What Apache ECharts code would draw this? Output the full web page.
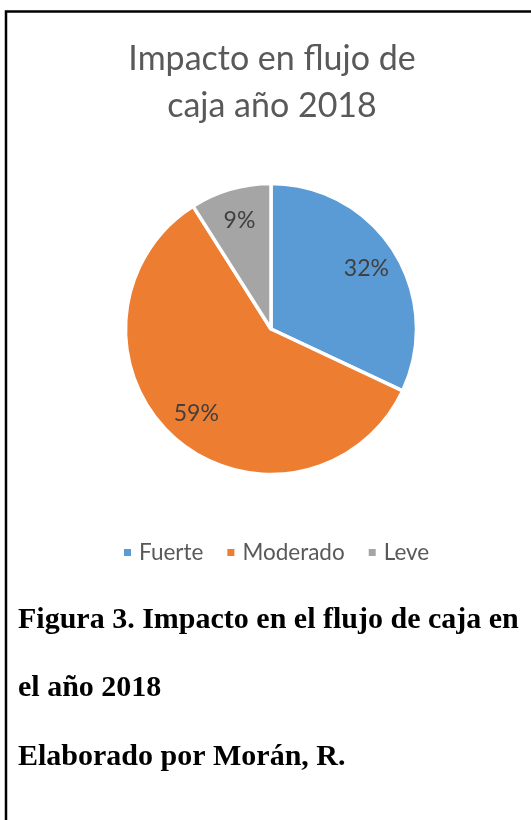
<!DOCTYPE html>
<html>
<head>
<meta charset="utf-8">
<script src="https://cdn.jsdelivr.net/npm/echarts@6/dist/echarts.min.js"></script>
<style>
  html, body { margin: 0; padding: 0; background: #fff; }
  #chart { width: 531px; height: 820px; }
</style>
</head>
<body>
<div id="chart"></div>
<script>
// datos
var categorias = ["Fuerte", "Moderado", "Leve"];
var valores = [32, 59, 9];
var colores = ["#5B9BD5", "#ED7D31", "#A5A5A5"];
var titulo = "Impacto en flujo de\ncaja año 2018";
var pieTexto = ["Figura 3. Impacto en el flujo de caja en", "el año 2018", "Elaborado por Morán, R."];

var datos = categorias.map(function (c, i) {
  return { name: c, value: valores[i] };
});

var myChart = echarts.init(document.getElementById("chart"));

var config = {
  animation: false,
  color: colores,
  title: {
    text: titulo,
    left: 267,
    top: 31,
    textAlign: "center",
    textStyle: {
      fontFamily: "Lato",
      fontWeight: "normal",
      fontSize: 34,
      lineHeight: 47,
      color: "#595959",
    },
  },
  legend: {
    data: categorias,
    left: 117,
    top: 536,
    icon: "rect",
    itemWidth: 9,
    itemHeight: 9,
    itemGap: 22,
    textStyle: {
      fontFamily: "Lato",
      fontSize: 22.5,
      color: "#595959",
      padding: [0, 0, 0, 2],
    },
  },
  series: [
    {
      type: "pie",
      center: [271, 329],
      radius: [0, 145.5],
      startAngle: 90,
      clockwise: true,
      data: datos,
      label: { show: false },
      labelLine: { show: false },
      itemStyle: { borderColor: "#fff", borderWidth: 3.5 },
      emphasis: { disabled: true },
    },
    {
      // serie transparente solo para colocar las etiquetas
      type: "pie",
      center: [271, 329],
      radius: [76, 144],
      startAngle: 90,
      clockwise: true,
      silent: true,
      data: datos,
      itemStyle: { color: "rgba(0,0,0,0)" },
      label: {
        show: true,
        position: "inside",
        formatter: "{d}%",
        fontFamily: "Lato",
        fontSize: 23,
        color: "#404040",
      },
      labelLine: { show: false },
      emphasis: { disabled: true },
    },
  ],
  graphic: [
    {
      type: "polyline",
      shape: { points: [[6, 820], [6, 11.5], [531, 11.5]] },
      style: { stroke: "#000", lineWidth: 2.5, fill: null },
    },
    {
      type: "text",
      left: 18,
      top: 605,
      style: { text: pieTexto[0], font: "bold 30px 'Liberation Serif'", fill: "#000" },
    },
    {
      type: "text",
      left: 18,
      top: 673,
      style: { text: pieTexto[1], font: "bold 30px 'Liberation Serif'", fill: "#000" },
    },
    {
      type: "text",
      left: 18,
      top: 742,
      style: { text: pieTexto[2], font: "bold 30px 'Liberation Serif'", fill: "#000" },
    },
  ],
};

myChart.setOption(config);
</script>
</body>
</html>
